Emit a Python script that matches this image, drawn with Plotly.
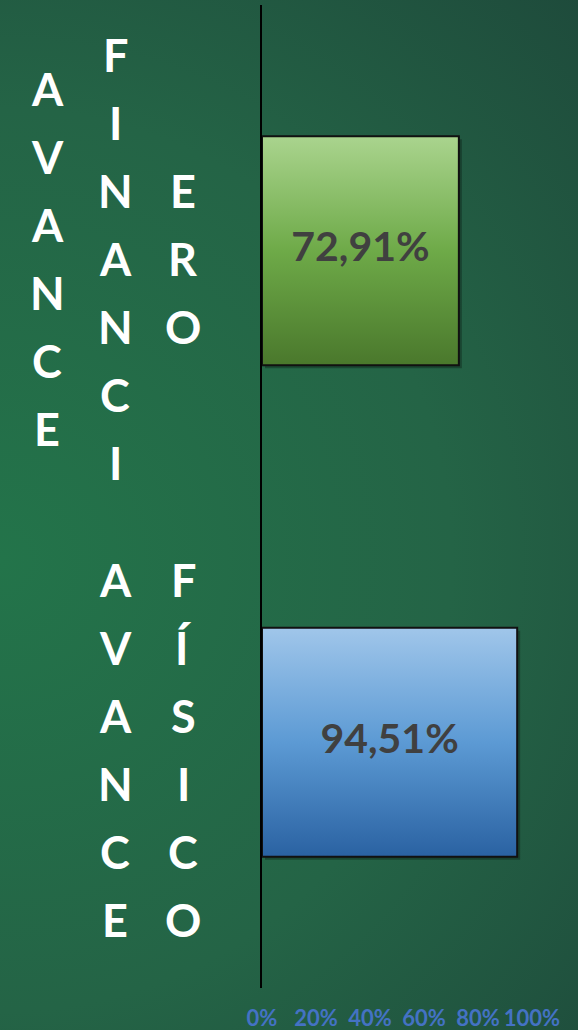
import base64
import plotly.graph_objects as go

# ---- data ----
categories = ["AVANCE FINANCIERO", "AVANCE FÍSICO"]
values = [0.7291, 0.9451]
label_columns = [["AVANCE", "FINANCI", "ERO"], ["AVANCE", "FÍSICO"]]
tick_values = [0, 0.2, 0.4, 0.6, 0.8, 1.0]

# ---- style ----
W, H = 578, 1030
ML, MR, MT, MB = 262, 46, 5, 42
bar_half = 0.233
col_shifts = [[-215, -147, -79], [-147, -79]]
row_pitch = 68
bar_scales = [
    [[0, "rgb(74,120,44)"], [0.5, "rgb(110,170,72)"], [1, "rgb(170,212,142)"]],
    [[0, "rgb(42,98,162)"], [0.5, "rgb(92,154,212)"], [1, "rgb(160,198,234)"]],
]
FONT = "Lato"

svg = f'''<svg xmlns="http://www.w3.org/2000/svg" width="{W}" height="{H}" viewBox="0 0 {W} {H}">
<defs><radialGradient id="g" gradientUnits="userSpaceOnUse" cx="0" cy="560" r="820">
<stop offset="0" stop-color="#23744a"/><stop offset="0.55" stop-color="#246446"/>
<stop offset="1" stop-color="#1e4a3b"/></radialGradient></defs>
<rect width="{W}" height="{H}" fill="url(#g)"/></svg>'''
bg_src = "data:image/svg+xml;base64," + base64.b64encode(svg.encode()).decode()

n = len(categories)
pos = [n - 1 - i for i in range(n)]

fig = go.Figure()
pw = W - ML - MR
ph = H - MT - MB
dx, dy = 3 / pw * 1.0, 3 / ph * (n)
for i, (v, p) in enumerate(zip(values, pos)):
    xs = [0, v, v, 0, 0]
    ys = [p - bar_half, p - bar_half, p + bar_half, p + bar_half, p - bar_half]
    fig.add_trace(go.Scatter(
        x=[x + dx for x in xs], y=[y - dy for y in ys], mode="lines",
        fill="toself", fillcolor="rgba(0,0,0,0.28)", line=dict(width=0),
        hoverinfo="skip", showlegend=False))
    fig.add_trace(go.Scatter(
        x=xs, y=ys, mode="lines", fill="toself",
        fillgradient=dict(type="vertical", colorscale=bar_scales[i]),
        line=dict(color="#111111", width=2),
        name=categories[i], hoverinfo="skip", showlegend=False))

fig.add_trace(go.Scatter(
    x=[v / 2 for v in values], y=pos, mode="text",
    text=[f"{v * 100:.2f}%".replace(".", ",") for v in values],
    textfont=dict(family=FONT, size=41, color="#404040", weight="bold"),
    hoverinfo="skip", showlegend=False))

annotations = []
for cols, shifts, p in zip(label_columns, col_shifts, pos):
    for word, xs in zip(cols, shifts):
        m = len(word)
        for k, ch in enumerate(word):
            annotations.append(dict(
                x=0, xref="paper", y=p, yref="y", text=ch, showarrow=False,
                xshift=xs, yshift=((m - 1) / 2 - k) * row_pitch - 8,
                xanchor="center", yanchor="middle",
                font=dict(family=FONT, size=45, color="white", weight="bold")))

fig.update_layout(
    width=W, height=H,
    margin=dict(l=ML, r=MR, t=MT, b=MB, pad=0, autoexpand=False),
    paper_bgcolor="#236446", plot_bgcolor="rgba(0,0,0,0)",
    showlegend=False,
    annotations=annotations,
    images=[dict(source=bg_src, xref="paper", yref="paper",
                 x=-ML / pw, y=1 + MT / ph, sizex=W / pw, sizey=H / ph,
                 xanchor="left", yanchor="top", sizing="stretch", layer="below")],
    xaxis=dict(range=[0, 1], tickvals=tick_values, tickformat=".0%",
               showgrid=False, zeroline=False, showline=False, ticks="",
               tickangle=0, automargin=False,
               tickfont=dict(family=FONT, size=22, color="#4472C4", weight="bold"),
               ticklabelstandoff=15, fixedrange=True),
    yaxis=dict(range=[-0.5, n - 0.5], showticklabels=False, showgrid=False,
               zeroline=False, showline=True, linecolor="black", linewidth=2,
               ticks="", automargin=False, fixedrange=True),
)

fig.write_html("out.html", config={"displayModeBar": False},
               post_script="document.body.style.margin='0';document.body.style.padding='0';")
